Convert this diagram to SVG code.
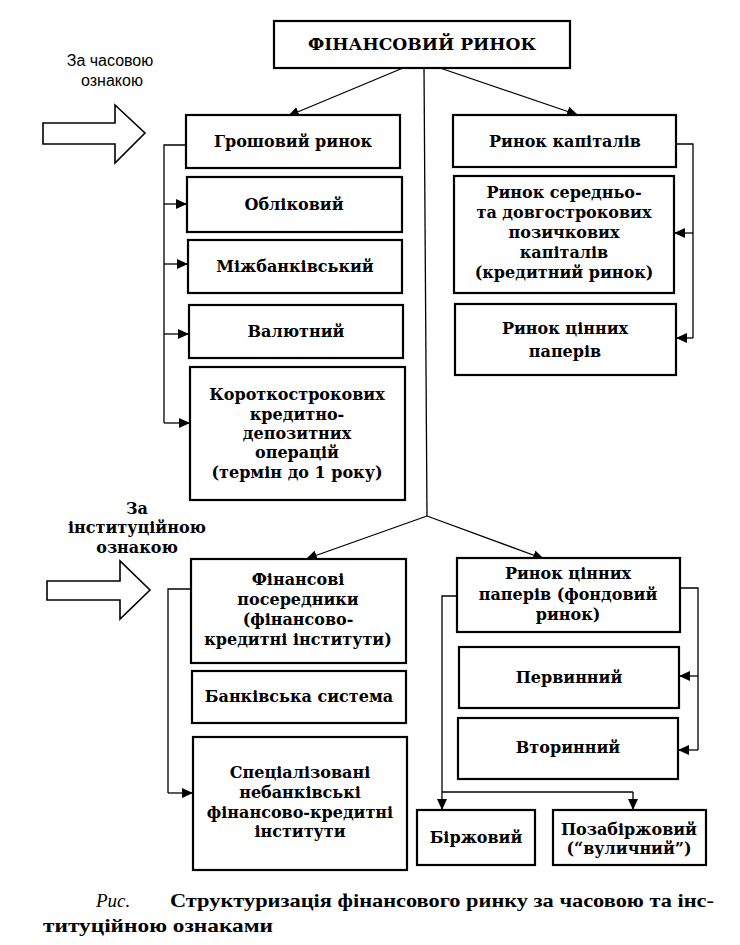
<svg xmlns="http://www.w3.org/2000/svg" width="740" height="945" viewBox="0 0 740 945">
<style>
.box{fill:#fff;stroke:#000;stroke-width:2.2}
.t{font-family:"DejaVu Serif","Liberation Serif",serif;font-weight:bold;font-size:16px;fill:#000;text-anchor:middle}
.ln{fill:none;stroke:#000;stroke-width:1.3}
.arr{fill:#fff;stroke:#000;stroke-width:1.6}
.lab{font-family:"Liberation Sans",Arial,sans-serif;font-size:16px;fill:#000;text-anchor:middle}
.cap{font-family:"Liberation Serif","Times New Roman",serif;font-size:19px;fill:#000}
</style>
<defs>
<marker id="ah" markerWidth="12" markerHeight="10" refX="11" refY="5" orient="auto" markerUnits="userSpaceOnUse">
<path d="M0,0 L11,5 L0,10 Z" fill="#000"/>
</marker>
</defs>
<rect width="740" height="945" fill="#fff"/>

<g id="connectors">
<line class="ln" x1="424" y1="68" x2="427" y2="516"/>
<line class="ln" x1="403" y1="68" x2="288" y2="116" marker-end="url(#ah)"/>
<line class="ln" x1="440" y1="68" x2="578" y2="115" marker-end="url(#ah)"/>
<line class="ln" x1="427" y1="516" x2="306" y2="559" marker-end="url(#ah)"/>
<line class="ln" x1="427" y1="516" x2="544" y2="559" marker-end="url(#ah)"/>
<path class="ln" d="M186,145 H164 V423"/>
<path class="ln" d="M164,204 H187" marker-end="url(#ah)"/>
<path class="ln" d="M164,264 H188" marker-end="url(#ah)"/>
<path class="ln" d="M164,334 H189" marker-end="url(#ah)"/>
<path class="ln" d="M164,423 H190" marker-end="url(#ah)"/>
<path class="ln" d="M676,144 H693 V338"/>
<path class="ln" d="M693,233 H674" marker-end="url(#ah)"/>
<path class="ln" d="M693,338 H676" marker-end="url(#ah)"/>
<path class="ln" d="M191,589 H168 V793"/>
<path class="ln" d="M168,793 H193" marker-end="url(#ah)"/>
<path class="ln" d="M680,588 H698 V750"/>
<path class="ln" d="M698,676 H679" marker-end="url(#ah)"/>
<path class="ln" d="M698,750 H678" marker-end="url(#ah)"/>
<path class="ln" d="M457,596 H442 V792"/>
<path class="ln" d="M442,792 V810" marker-end="url(#ah)"/>
<path class="ln" d="M442,792 H633"/>
<path class="ln" d="M633,792 V810" marker-end="url(#ah)"/>
</g>

<g id="label-time">
<text class="lab" x="110" y="66">За часовою</text>
<text class="lab" x="112" y="86">ознакою</text>
<polygon class="arr" points="43,123 115,123 115,105 145,133 115,163 115,144 43,144"/>
</g>
<g id="label-inst">
<text class="t" x="137" y="514">За</text>
<text class="t" x="137" y="533">інституційною</text>
<text class="t" x="137" y="553">ознакою</text>
<polygon class="arr" points="47,581 120,581 120,561 150,590 120,619 120,600 47,600"/>
</g>

<g id="n-root">
<rect class="box" x="274" y="21" width="296" height="47"/>
<text class="t" x="422" y="50" textLength="228" lengthAdjust="spacingAndGlyphs">ФІНАНСОВИЙ РИНОК</text>
</g>
<g id="n-money">
<rect class="box" x="186" y="115" width="214" height="53"/>
<text class="t" x="293" y="147">Грошовий ринок</text>
</g>
<g id="n-capital">
<rect class="box" x="453" y="115" width="223" height="52"/>
<text class="t" x="565" y="147">Ринок капіталів</text>
</g>
<g id="n-discount">
<rect class="box" x="187" y="177" width="215" height="55"/>
<text class="t" x="294" y="210">Обліковий</text>
</g>
<g id="n-interbank">
<rect class="box" x="188" y="240" width="214" height="53"/>
<text class="t" x="295" y="272">Міжбанківський</text>
</g>
<g id="n-currency">
<rect class="box" x="189" y="305" width="214" height="53"/>
<text class="t" x="296" y="337">Валютний</text>
</g>
<g id="n-shortterm">
<rect class="box" x="190" y="367" width="215" height="133"/>
<text class="t" x="297" y="400">Короткострокових</text>
<text class="t" x="297" y="420">кредитно-</text>
<text class="t" x="297" y="439">депозитних</text>
<text class="t" x="297" y="458">операцій</text>
<text class="t" x="297" y="478">(термін до 1 року)</text>
</g>
<g id="n-credit">
<rect class="box" x="454" y="176" width="220" height="117"/>
<text class="t" x="564" y="198">Ринок середньо-</text>
<text class="t" x="564" y="218">та довгострокових</text>
<text class="t" x="564" y="238">позичкових</text>
<text class="t" x="564" y="258">капіталів</text>
<text class="t" x="564" y="278">(кредитний ринок)</text>
</g>
<g id="n-securities1">
<rect class="box" x="455" y="304" width="221" height="71"/>
<text class="t" x="565" y="334">Ринок цінних</text>
<text class="t" x="565" y="357">паперів</text>
</g>
<g id="n-intermediaries">
<rect class="box" x="191" y="559" width="215" height="104"/>
<text class="t" x="298" y="585">Фінансові</text>
<text class="t" x="298" y="605">посередники</text>
<text class="t" x="298" y="625">(фінансово-</text>
<text class="t" x="298" y="645">кредитні інститути)</text>
</g>
<g id="n-banking">
<rect class="box" x="192" y="671" width="214" height="52"/>
<text class="t" x="299" y="702">Банківська система</text>
</g>
<g id="n-nonbank">
<rect class="box" x="193" y="737" width="214" height="133"/>
<text class="t" x="300" y="778">Спеціалізовані</text>
<text class="t" x="300" y="798">небанківські</text>
<text class="t" x="300" y="818">фінансово-кредитні</text>
<text class="t" x="300" y="837">інститути</text>
</g>
<g id="n-stock">
<rect class="box" x="457" y="558" width="223" height="74"/>
<text class="t" x="568" y="579">Ринок цінних</text>
<text class="t" x="568" y="600">паперів (фондовий</text>
<text class="t" x="568" y="620">ринок)</text>
</g>
<g id="n-primary">
<rect class="box" x="459" y="647" width="220" height="61"/>
<text class="t" x="569" y="683">Первинний</text>
</g>
<g id="n-secondary">
<rect class="box" x="458" y="718" width="220" height="61"/>
<text class="t" x="568" y="753">Вторинний</text>
</g>
<g id="n-exchange">
<rect class="box" x="417" y="810" width="118" height="55"/>
<text class="t" x="476" y="843">Біржовий</text>
</g>
<g id="n-otc">
<rect class="box" x="553" y="810" width="153" height="55"/>
<text class="t" x="629" y="835">Позабіржовий</text>
<text class="t" x="629" y="854">(“вуличний”)</text>
</g>

<g id="caption">
<text class="cap" x="96" y="907" font-style="italic">Рис.</text>
<text class="cap" x="170" y="907" font-weight="bold" textLength="544" lengthAdjust="spacingAndGlyphs">Структуризація фінансового ринку за часовою та інс-</text>
<text class="cap" x="43" y="932" font-weight="bold" textLength="230" lengthAdjust="spacingAndGlyphs">титуційною ознаками</text>
</g>
</svg>
